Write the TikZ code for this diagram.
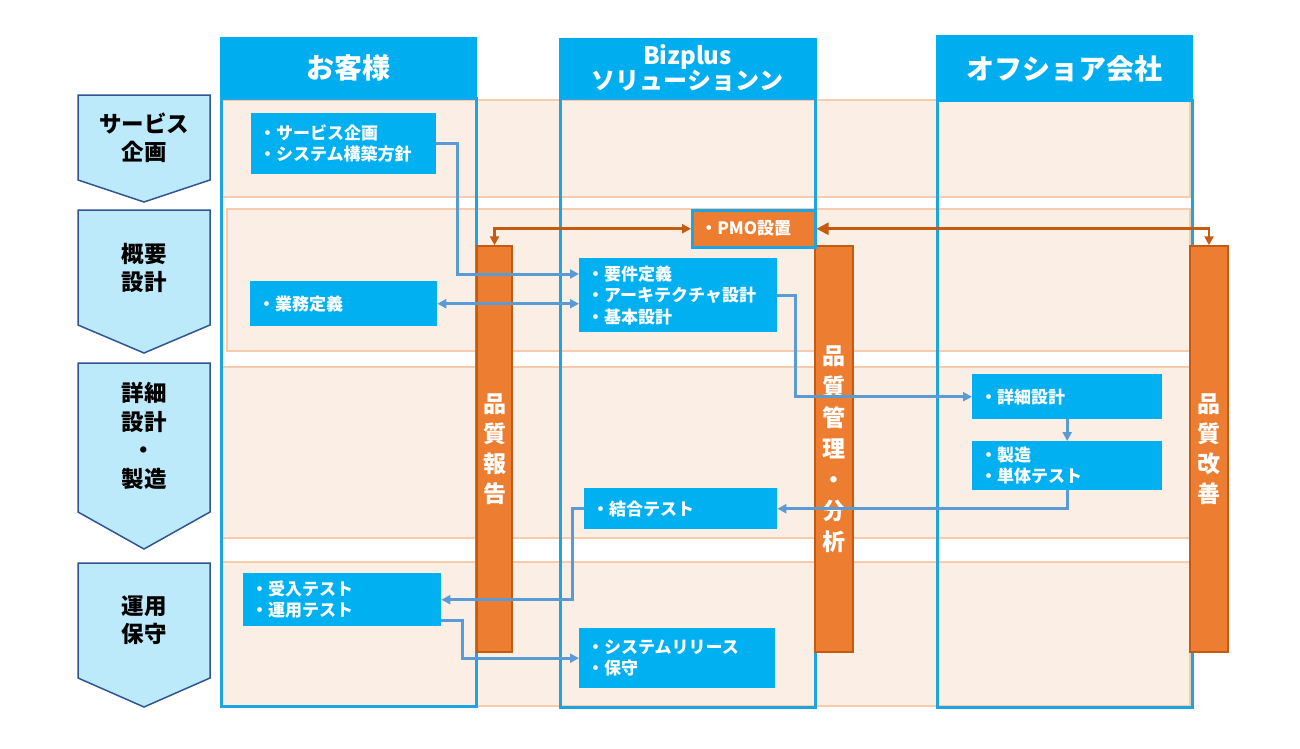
\documentclass[tikz,border=0pt]{standalone}
\usepackage{fontspec}
\setmainfont{Noto Sans CJK JP}
\usepackage{tikz}
\usetikzlibrary{arrows.meta}
\definecolor{laneblue}{HTML}{00AEEF}
\definecolor{laneline}{HTML}{1CA5E2}
\definecolor{boxblue}{HTML}{00B0F0}
\definecolor{phasefill}{HTML}{BDEAFB}
\definecolor{phaseedge}{HTML}{2F5597}
\definecolor{bandfill}{HTML}{FBEEE5}
\definecolor{bandedge}{HTML}{F8CBAD}
\definecolor{qorange}{HTML}{ED7D31}
\definecolor{qedge}{HTML}{C55A11}
\definecolor{linkblue}{HTML}{5B9BD5}

\begin{document}
\begin{tikzpicture}[x=1pt, y=-1pt,
  band/.style={fill=bandfill, draw=bandedge, line width=1.2pt},
  frame/.style={draw=laneline, line width=3pt},
  lanehead/.style={fill=laneblue, text=white, inner sep=0pt, align=center},
  phase/.style={fill=phasefill, draw=phaseedge, line width=1.5pt},
  phasetext/.style={align=center, inner sep=0pt, font=\bfseries\fontsize{22.5}{28.5}\selectfont},
  task/.style={fill=boxblue, text=white, anchor=north west, align=left, inner xsep=8pt, inner ysep=0pt,
    font=\bfseries\fontsize{17}{21.5}\selectfont},
  qbar/.style={fill=qorange, draw=qedge, line width=1.5pt, text=white, align=center, inner sep=0pt,
    minimum height=406pt, font=\bfseries\fontsize{23}{30}\selectfont},
  blink/.style={draw=linkblue, line width=3pt, -{Triangle[length=9pt,width=9pt]}},
  olink/.style={draw=qedge, line width=2.6pt}]
\useasboundingbox (0,0) rectangle (1300,748);
% phase arrow: top, side bottom, tip
\def\Phase#1#2#3{\draw[phase] (78,#1) -- (210,#1) -- (210,#2) -- (144,#3) -- (78,#2) -- cycle;}
% row bands
\draw[band] (221,100) rectangle (1190,197);
\draw[band] (227,209) rectangle (1190,351);
\draw[band] (221,367) rectangle (1190,538);
\draw[band] (221,562) rectangle (1190,706);
% lane frames and headers
\draw[frame] (221,98) rectangle (476,706);
\draw[frame] (560,98) rectangle (815,707);
\draw[frame] (937,100) rectangle (1192,707);
\node[lanehead, minimum width=257pt, minimum height=61pt, font=\bfseries\fontsize{28}{30}\selectfont] (cust) at (348.5,67.5) {お客様};
\node[lanehead, minimum width=258pt, minimum height=60pt, font=\bfseries\fontsize{24}{22}\selectfont] (biz) at (687.5,68) {Bizplus\\ソリューションン};
\node[lanehead, minimum width=257pt, minimum height=67pt, font=\bfseries\fontsize{28}{30}\selectfont] (off) at (1064.5,68.5) {オフショア会社};
% phases
\Phase{95}{180}{202}
\Phase{210}{325}{353}
\Phase{363}{512}{549}
\Phase{563}{678}{707}
\node[phasetext] (ph1) at (144,137.5) {サービス\\企画};
\node[phasetext] (ph2) at (144,268) {概要\\設計};
\node[phasetext] (ph3) at (144,436) {詳細\\設計\\・\\製造};
\node[phasetext] (ph4) at (144,620) {運用\\保守};
% quality bars
\node[qbar, minimum width=35pt] (rep) at (494.5,449) {品\\質\\報\\告};
\node[qbar, minimum width=38pt, font=\bfseries\fontsize{23}{31}\selectfont] (mgmt) at (834,449) {品\\質\\管\\理\\・\\分\\析};
\node[qbar, minimum width=38pt] (imp) at (1209,449) {品\\質\\改\\善};
% tasks
\node[task, text width=169pt, minimum height=61pt] (plan) at (251,113) {・サービス企画\\・システム構築方針};
\node[task, text width=171pt, minimum height=45pt] (busdef) at (250,281) {・業務定義};
\node[task, text width=182pt, minimum height=74pt] (req) at (579,258) {・要件定義\\・アーキテクチャ設計\\・基本設計};
\node[task, fill=qorange, draw=laneline, line width=2.5pt, text width=107pt, minimum height=37pt] (pmo) at (691,209) {・PMO設置};
\node[task, text width=174pt, minimum height=45pt] (dsgn) at (972,374) {・詳細設計};
\node[task, text width=174pt, minimum height=49pt] (mfg) at (972,441) {・製造\\・単体テスト};
\node[task, text width=177pt, minimum height=41pt] (itest) at (584,488) {・結合テスト};
\node[task, text width=182pt, minimum height=53pt] (acc) at (243,573) {・受入テスト\\・運用テスト};
\node[task, text width=180pt, minimum height=60pt] (rel) at (579,628) {・システムリリース\\・保守};
% PMO links
\draw[olink, {Triangle[length=9pt,width=9pt]}-{Triangle[length=9pt,width=9pt]}] (rep.north) |- (pmo.west);
\draw[olink, {Triangle[length=12pt,width=12pt]}-{Triangle[length=9pt,width=9pt]}] (pmo.east) -| (imp.north);
% task flow
\draw[blink] (plan.east) -- ++(21,0) |- ([yshift=-16pt]req.north west);
\draw[blink, {Triangle[length=9pt,width=9pt]}-{Triangle[length=9pt,width=9pt]}] (busdef.east) -- (busdef.east -| req.west);
\draw[blink] (req.east) -- ++(18,0) |- (dsgn.west);
\draw[blink] (dsgn.south) -- (mfg.north);
\draw[blink] (mfg.south) |- (itest.east);
\draw[blink] (itest.west) -- ++(-12,0) |- (acc.east);
\draw[blink] ([yshift=6pt]acc.south east) -- ++(21,0) |- (rel.west);
\end{tikzpicture}
\end{document}
